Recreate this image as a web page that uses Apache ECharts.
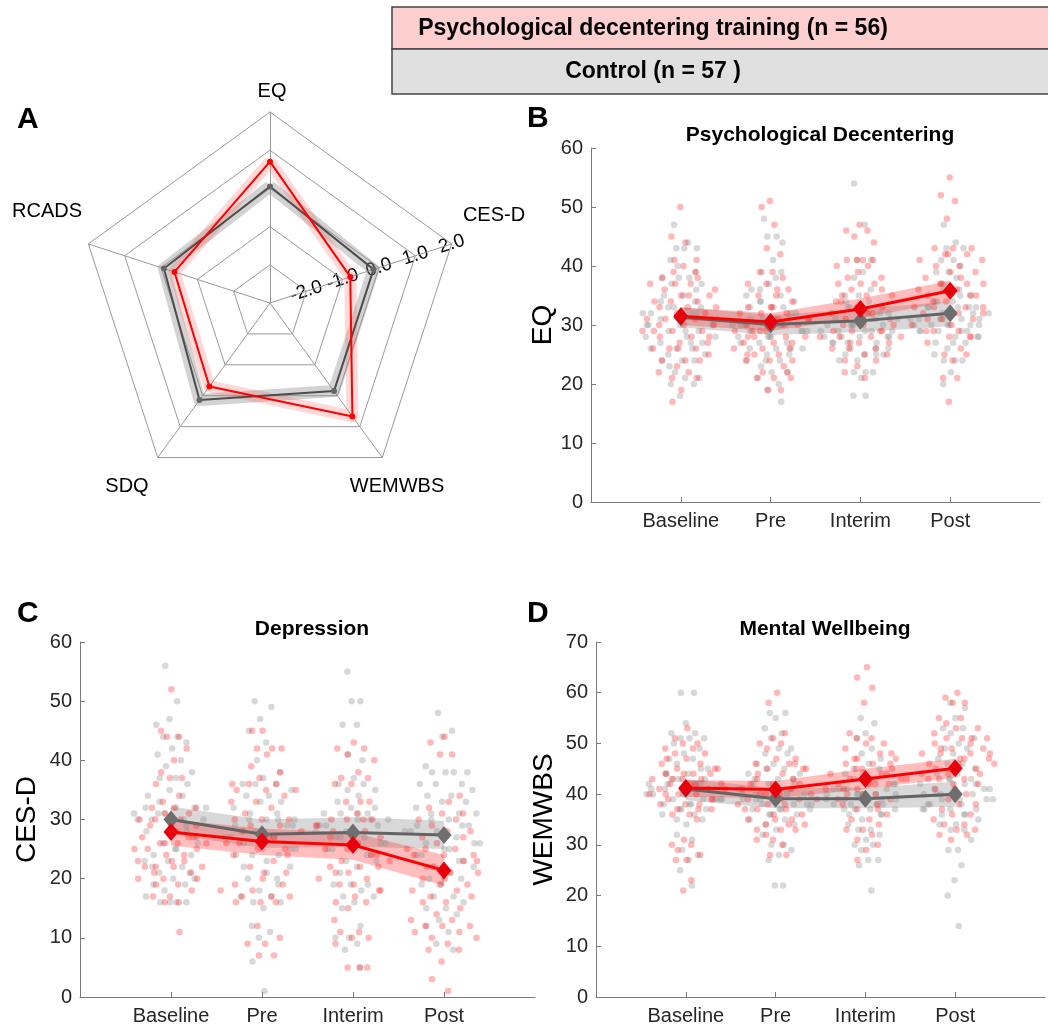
<!DOCTYPE html>
<html><head><meta charset="utf-8">
<script src="https://cdn.jsdelivr.net/npm/echarts@6/dist/echarts.min.js"></script>
<style>html,body{margin:0;padding:0;background:#fff}#c{width:1048px;height:1027px}</style>
</head><body><div id="c"></div><script>
// ---------- data ----------
const timepoints = ['Baseline', 'Pre', 'Interim', 'Post'];
const groupNames = ['Psychological decentering training (n = 56)', 'Control (n = 57 )'];

// Panel A (radar, z-scores)
const radarAxes = ['EQ', 'RCADS', 'SDQ', 'WEMWBS', 'CES-D'];
const radarTickLabels = ['-2.0', '-1.0', '0.0', '1.0', '2.0'];
const radarTrain = [0.70, -0.37, -0.30, 0.67, -0.79];
const radarControl = [0.05, -0.08, 0.14, -0.15, -0.15];

// Panel B: EQ
const eqTrain = [
  [50,45,44,41,41,40,38,38,37,37,37,36,35,35,34,34,34,33,33,33,32,32,31,31,31,30,30,29,29,29,29,28,28,27,27,26,26,26,25,24,24,24,23,22,22,21,21,19,17,39,39,36,35,30,28,26],
  [51,50,47,43,42,39,39,38,37,37,36,35,34,33,33,32,32,31,31,30,30,29,29,28,28,28,27,27,27,26,26,25,25,24,24,24,23,22,21,21,21,19,19,32,30,29,36,33,25,26,29,31,35,28,22,30],
  [47,46,46,45,44,41,41,41,41,40,40,38,38,37,37,37,36,35,35,34,33,33,32,32,31,30,30,29,29,29,28,28,28,27,27,26,26,26,25,25,24,24,23,22,21,30,31,33,34,29,27,28,32,35,36,39],
  [55,52,51,48,43,43,43,42,42,41,40,40,39,39,38,37,37,37,36,35,35,34,33,33,33,32,32,32,31,31,30,29,29,28,28,27,26,25,25,24,21,21,17,36,38,34,33,30,29,35,37,41,32,31,28,42]
];
const eqControl = [
  [47,44,43,43,43,41,39,38,38,38,37,37,35,34,33,33,32,32,31,31,30,30,29,29,28,28,27,27,26,26,26,25,25,24,24,24,22,21,21,20,20,18,30,32,33,31,29,35,36,40,28,27,23,30,31,32,34],
  [48,45,45,44,41,39,39,37,36,35,34,34,33,33,32,31,30,30,29,29,28,28,27,27,26,26,26,25,25,24,24,23,22,22,21,20,19,17,30,31,32,28,27,33,34,29,31,30,26,24,35,38,36,29,28,30,31],
  [54,47,41,41,39,38,36,35,35,34,33,32,31,31,30,30,29,29,28,28,28,27,27,26,25,25,25,25,24,24,22,22,22,21,18,18,30,31,32,29,28,33,30,31,27,26,29,34,32,30,28,31,33,29,30,27,26],
  [47,44,43,43,41,41,40,39,39,38,37,35,34,33,33,32,31,31,30,30,30,29,29,29,28,28,27,27,26,25,24,24,24,22,20,30,31,32,33,34,31,30,29,35,36,28,27,33,32,31,30,29,34,33,32,31,36]
];
const eqTrainMean = [31.5, 30.5, 32.7, 35.8];
const eqTrainLo = [30.0, 29.0, 31.2, 34.0];
const eqTrainHi = [33.0, 32.0, 34.5, 37.5];
const eqControlMean = [31.3, 30.1, 30.7, 32.0];
const eqControlLo = [29.6, 28.3, 28.8, 29.8];
const eqControlHi = [33.0, 31.7, 32.7, 34.0];

// Panel C: CES-D
const cesdTrain = [
  [52,45,44,44,42,40,38,37,37,36,34,33,32,32,32,31,31,30,30,30,29,28,27,27,26,26,26,25,25,24,23,23,22,22,22,22,21,20,20,19,19,18,17,17,16,16,11,28,29,27,26,25,24,21,20,23],
  [45,45,42,42,42,41,39,38,37,36,36,36,35,35,35,34,33,33,32,31,30,30,30,29,29,28,27,26,25,25,24,23,22,21,21,19,19,18,18,17,17,17,16,16,16,12,10,9,9,7,7,26,27,28,24,20],
  [43,42,42,41,40,38,37,37,36,36,33,33,33,31,30,30,30,29,28,28,27,26,25,24,23,23,22,22,22,21,20,20,19,18,17,16,16,15,13,11,11,10,10,9,5,5,5,26,27,24,25,29,30,21,18,19],
  [44,43,41,41,34,33,32,31,31,30,30,29,28,28,27,27,26,25,25,25,24,24,24,23,22,21,21,20,19,19,18,18,17,17,16,16,15,14,13,13,12,12,12,11,11,10,10,9,8,8,6,3,1,22,23,20]
];
const cesdControl = [
  [56,50,47,46,44,44,43,42,41,40,39,38,37,37,36,35,34,34,33,32,32,32,32,31,31,30,30,30,29,28,28,26,26,25,24,24,23,23,22,21,20,20,19,19,18,17,16,16,16,16,30,29,31,27,25,22,21],
  [50,49,47,45,43,40,38,37,36,36,36,35,34,34,33,33,32,31,30,30,30,29,29,28,27,27,26,25,25,24,24,24,22,21,20,19,18,17,17,16,16,15,12,11,10,6,1,28,29,26,27,30,31,25,23,22,20],
  [55,50,50,46,46,41,40,37,36,36,35,35,34,33,32,32,31,31,31,30,30,29,29,28,28,27,27,26,26,25,24,23,23,22,21,19,19,19,18,17,17,16,15,12,10,10,9,8,5,28,29,30,27,26,31,25,24],
  [48,45,44,39,38,38,38,38,36,36,36,35,34,34,33,33,32,31,31,31,30,29,29,28,28,27,26,26,25,24,23,22,22,21,20,20,19,19,17,17,16,15,15,14,13,12,11,9,8,27,28,29,30,26,25,24,23]
];
const cesdTrainMean = [27.9, 26.3, 25.7, 21.4];
const cesdTrainLo = [25.6, 24.0, 23.2, 18.8];
const cesdTrainHi = [30.0, 28.5, 27.8, 24.0];
const cesdControlMean = [30.0, 27.5, 27.8, 27.4];
const cesdControlLo = [27.5, 25.2, 25.4, 25.0];
const cesdControlHi = [32.2, 30.0, 30.4, 29.8];

// Panel D: WEMWBS
const wemTrain = [
  [53,51,50,50,49,49,48,48,47,47,46,45,45,44,44,44,43,43,43,42,42,42,41,41,40,40,40,39,39,38,38,37,37,37,36,36,35,31,30,30,29,28,27,27,23,21,41,42,40,39,44,46,38,43,45,41],
  [60,58,52,51,50,50,49,47,47,46,46,45,45,44,43,42,42,41,41,40,40,40,39,39,38,38,37,37,36,35,35,35,34,34,33,33,33,31,31,30,28,28,41,42,43,40,39,38,44,46,36,37,34,32,45,39],
  [65,63,61,58,52,51,51,50,50,49,48,47,47,46,46,45,45,44,44,43,43,42,42,42,41,41,40,40,39,39,38,37,37,36,35,35,34,33,33,32,31,30,29,27,44,45,43,42,41,46,40,39,38,47,48,43],
  [60,59,58,58,55,55,54,53,53,52,51,51,51,51,50,49,49,48,48,48,47,46,46,45,44,44,43,43,42,41,41,40,39,38,38,37,36,36,35,34,34,33,33,32,32,31,46,47,45,44,42,43,50,49,48,47]
];
const wemControl = [
  [60,60,54,52,52,51,51,51,50,49,48,47,47,46,45,44,44,43,43,42,42,41,41,40,40,39,39,39,38,38,37,37,36,36,35,35,34,32,31,29,28,27,25,22,40,41,42,43,39,38,44,45,37,40,41,42,39],
  [56,56,55,53,52,51,49,49,48,48,46,46,45,45,44,43,43,42,42,41,41,40,40,39,39,38,38,37,37,37,36,36,35,35,34,34,33,32,30,30,29,28,27,22,22,40,41,39,38,37,42,43,36,44,40,39,38],
  [55,54,52,51,49,48,47,46,45,45,44,44,43,43,42,42,41,41,40,40,40,39,39,39,38,38,37,37,37,36,36,35,34,33,33,32,31,30,30,29,27,27,26,21,40,41,39,38,42,43,37,36,40,39,38,41,40],
  [58,57,55,53,53,52,51,50,49,49,48,47,46,46,45,44,44,43,43,42,42,41,41,40,40,40,39,39,38,38,37,37,37,36,36,35,34,34,33,33,31,29,29,26,23,20,14,40,41,39,38,42,43,37,36,40,39]
];
const wemTrainMean = [41.2, 40.9, 43.0, 45.1];
const wemTrainLo = [39.5, 39.2, 41.0, 43.3];
const wemTrainHi = [42.8, 42.6, 45.0, 47.0];
const wemControlMean = [41.0, 39.1, 39.1, 40.0];
const wemControlLo = [38.8, 37.2, 37.2, 37.5];
const wemControlHi = [43.0, 41.2, 41.2, 42.5];

// ---------- styling ----------
const FONT = "'Liberation Sans', Arial, Helvetica, sans-serif";
const RED = '#ff0000', RED_D = '#e8000b', GREY = '#646464', GREY_D = '#6e6e6e';
const RED_DOT = 'rgba(255,30,30,0.40)', GREY_DOT = 'rgba(140,140,140,0.42)';
const RED_BAND = 'rgba(255,50,50,0.32)', GREY_BAND = 'rgba(140,140,140,0.34)';
const AX = '#7a7a7a', TXT = '#262626';

// deterministic swarm layout: spread wider where values are dense
function swarm(vals, x0, phase) {
  const cnt = vals.map(v => vals.filter(w => Math.abs(w - v) <= 2).length);
  const mx = Math.max.apply(null, cnt);
  return vals.map((v, i) => {
    const u = ((i * 0.6180339887 + phase) % 1) * 2 - 1;
    return [x0 + u * (0.08 + 0.38 * cnt[i] / mx), v];
  });
}

const panels = [
  {grid: {left: 591, top: 148, width: 449, height: 354}, ymax: 60, name: 'EQ', gap: 34,
   tr: eqTrain, co: eqControl, trM: eqTrainMean, trLo: eqTrainLo, trHi: eqTrainHi,
   coM: eqControlMean, coLo: eqControlLo, coHi: eqControlHi},
  {grid: {left: 80, top: 642, width: 455, height: 355}, ymax: 60, name: 'CES-D', gap: 39,
   tr: cesdTrain, co: cesdControl, trM: cesdTrainMean, trLo: cesdTrainLo, trHi: cesdTrainHi,
   coM: cesdControlMean, coLo: cesdControlLo, coHi: cesdControlHi},
  {grid: {left: 596, top: 642, width: 449, height: 355}, ymax: 70, name: 'WEMWBS', gap: 38,
   tr: wemTrain, co: wemControl, trM: wemTrainMean, trLo: wemTrainLo, trHi: wemTrainHi,
   coM: wemControlMean, coLo: wemControlLo, coHi: wemControlHi}
];

const grids = [], xAxes = [], yAxes = [], series = [];
panels.forEach((p, g) => {
  grids.push(p.grid);
  xAxes.push({
    gridIndex: g, type: 'value', min: 0, max: 5, interval: 1,
    axisLine: {lineStyle: {color: AX, width: 1}},
    axisTick: {show: true, inside: true, length: 5, customValues: [1, 2, 3, 4], lineStyle: {color: AX}},
    axisLabel: {customValues: [1, 2, 3, 4], formatter: v => timepoints[v - 1] || '', color: TXT,
                fontSize: 20, fontFamily: FONT, margin: 9},
    splitLine: {show: false}
  });
  yAxes.push({
    gridIndex: g, type: 'value', min: 0, max: p.ymax, interval: 10,
    name: p.name, nameLocation: 'middle', nameGap: p.gap, nameRotate: 90,
    nameTextStyle: {fontSize: 28, color: '#000', fontFamily: FONT},
    axisLine: {show: true, lineStyle: {color: AX, width: 1}},
    axisTick: {show: true, inside: true, length: 5, lineStyle: {color: AX}},
    axisLabel: {color: TXT, fontSize: 20, fontFamily: FONT, margin: 8},
    splitLine: {show: false}
  });
  const coPts = [], trPts = [];
  p.co.forEach((vals, t) => swarm(vals, t + 1, 0.13 + 0.07 * g).forEach(d => coPts.push(d)));
  p.tr.forEach((vals, t) => swarm(vals, t + 1, 0.47 + 0.05 * g).forEach(d => trPts.push(d)));
  series.push({type: 'scatter', xAxisIndex: g, yAxisIndex: g, data: coPts, symbolSize: 6.5,
               itemStyle: {color: GREY_DOT}, silent: true});
  series.push({type: 'scatter', xAxisIndex: g, yAxisIndex: g, data: trPts, symbolSize: 6.5,
               itemStyle: {color: RED_DOT}, silent: true});
  // confidence band drawn as a polygon through the axis scales
  const band = (lo, hi, col) => {
    series.push({type: 'custom', xAxisIndex: g, yAxisIndex: g, silent: true,
      data: [[1, lo[0]]],
      renderItem: (params, api) => {
        const up = hi.map((v, i) => api.coord([i + 1, v]));
        const dn = lo.map((v, i) => api.coord([i + 1, v])).reverse();
        return {type: 'polygon', shape: {points: up.concat(dn)}, style: {fill: col}};
      }});
  };
  band(p.coLo, p.coHi, GREY_BAND);
  band(p.trLo, p.trHi, RED_BAND);
  series.push({type: 'line', xAxisIndex: g, yAxisIndex: g, data: p.coM.map((v, i) => [i + 1, v]),
               symbol: 'diamond', symbolSize: [15, 18], lineStyle: {color: GREY, width: 3},
               itemStyle: {color: GREY_D}, silent: true});
  series.push({type: 'line', xAxisIndex: g, yAxisIndex: g, data: p.trM.map((v, i) => [i + 1, v]),
               symbol: 'diamond', symbolSize: [15, 18], lineStyle: {color: RED, width: 3},
               itemStyle: {color: RED_D}, silent: true});
});

// ---------- radar ----------
const RC = [270, 303], RR = 191, RMIN = -3, RMAX = 2;
series.push({type: 'radar', radarIndex: 0, symbol: 'none', silent: true,
  data: [{value: radarControl, lineStyle: {color: 'rgba(140,140,140,0.38)', width: 12, join: 'round'}}]});
series.push({type: 'radar', radarIndex: 0, symbol: 'none', silent: true,
  data: [{value: radarTrain, lineStyle: {color: 'rgba(255,90,90,0.24)', width: 12, join: 'round'}}]});
series.push({type: 'radar', radarIndex: 0, symbol: 'circle', symbolSize: 6, silent: true,
  data: [{value: radarControl, lineStyle: {color: '#4d4d4d', width: 2}, itemStyle: {color: '#666'}}]});
series.push({type: 'radar', radarIndex: 0, symbol: 'circle', symbolSize: 6, silent: true,
  data: [{value: radarTrain, lineStyle: {color: RED, width: 2}, itemStyle: {color: RED}}]});

const graphics = [];
// header boxes
graphics.push({type: 'rect', shape: {x: 392, y: 7, width: 670, height: 42},
  style: {fill: '#fdcfcf', stroke: '#444', lineWidth: 1.5}});
graphics.push({type: 'rect', shape: {x: 392, y: 49, width: 670, height: 45},
  style: {fill: '#e0e0e0', stroke: '#444', lineWidth: 1.5}});
graphics.push({type: 'text', x: 653, y: 29, style: {text: groupNames[0], align: 'center', verticalAlign: 'middle',
  font: "bold 23px " + FONT, fill: '#000'}});
graphics.push({type: 'text', x: 653, y: 72, style: {text: groupNames[1], align: 'center', verticalAlign: 'middle',
  font: "bold 23px " + FONT, fill: '#000'}});
// radar axis names
const radarNamePos = [[272, 91], [47, 211], [127, 486], [397, 486], [494, 215]];
radarAxes.forEach((n, i) => graphics.push({type: 'text', x: radarNamePos[i][0], y: radarNamePos[i][1],
  style: {text: n, align: 'center', verticalAlign: 'middle', font: '20px ' + FONT, fill: '#000'}}));
// radar tick labels along the CES-D axis
const cesAng = (90 + 72 * 4) % 360 * Math.PI / 180;
radarTickLabels.forEach((t, k) => {
  const r = RR * (k + 1) / 5;
  graphics.push({type: 'text', x: RC[0] + r * Math.cos(cesAng), y: RC[1] - r * Math.sin(cesAng),
    rotation: cesAng, style: {text: t, align: 'center', verticalAlign: 'middle', font: '19px ' + FONT, fill: '#000'}});
});

const titles = [
  {text: 'A', left: 12, top: 100}, {text: 'B', left: 522, top: 99},
  {text: 'C', left: 12, top: 594}, {text: 'D', left: 522, top: 594}
].map(t => ({text: t.text, left: t.left, top: t.top, textStyle: {fontSize: 30, fontWeight: 'bold', color: '#000', fontFamily: FONT}}));
[['Psychological Decentering', 815, 120], ['Depression', 307, 614], ['Mental Wellbeing', 820, 614]].forEach(t =>
  titles.push({text: t[0], left: t[1], top: t[2], textAlign: 'center',
               textStyle: {fontSize: 21, fontWeight: 'bold', color: '#000', fontFamily: FONT}}));

const chart = echarts.init(document.getElementById('c'), null, {renderer: 'canvas'});
chart.setOption({
  backgroundColor: '#fff',
  animation: false,
  title: titles,
  grid: grids,
  xAxis: xAxes,
  yAxis: yAxes,
  radar: {
    center: RC, radius: RR, startAngle: 90, shape: 'polygon', splitNumber: 5,
    indicator: radarAxes.map(n => ({name: n, min: RMIN, max: RMAX})),
    axisName: {show: false},
    axisLine: {lineStyle: {color: '#9a9a9a', width: 1}},
    splitLine: {lineStyle: {color: '#9a9a9a', width: 1}},
    splitArea: {show: false},
    axisTick: {show: false}, axisLabel: {show: false}
  },
  graphic: graphics,
  series: series
});
</script></body></html>
